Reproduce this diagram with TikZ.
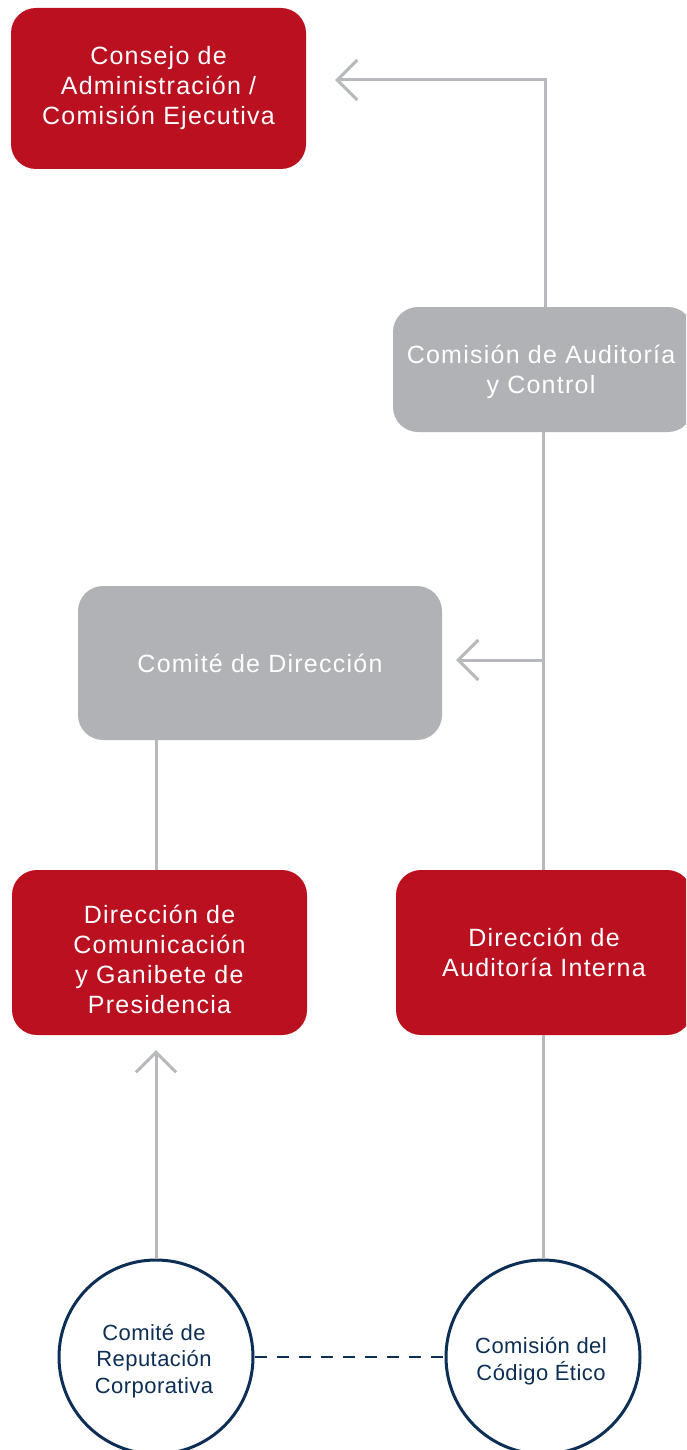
\documentclass[tikz,border=0pt]{standalone}
\usepackage{fontspec}
\setmainfont{Liberation Sans}
\newfontfamily\boxfont[LetterSpace=5]{Liberation Sans}
\newfontfamily\circfont[LetterSpace=2]{Liberation Sans}
\usetikzlibrary{arrows.meta}
\definecolor{cred}{HTML}{BA1020}
\definecolor{cgray}{HTML}{B1B2B5}
\definecolor{cline}{HTML}{B8B9BC}
\definecolor{cnavy}{HTML}{0D2E55}
\tikzset{
  box/.style={rounded corners=25pt, inner sep=0pt, align=center, text=white,
    font=\boxfont\fontsize{25}{30}\selectfont},
  redbox/.style={box, fill=cred},
  graybox/.style={box, fill=cgray},
  circ/.style={circle, draw=cnavy, line width=3pt, fill=white, minimum size=194pt,
    inner sep=0pt},
  circtext/.style={inner sep=0pt, align=center, text=cnavy,
    font=\circfont\fontsize{22}{26.5}\selectfont},
  conn/.style={draw=cline, line width=3pt},
  arr/.style={conn, -{Straight Barb[length=20pt,width=40pt,line width=3pt]}},
  dashconn/.style={draw=cnavy, line width=1.5pt, dash pattern=on 12pt off 10pt}
}
\begin{document}
\begin{tikzpicture}[x=1pt,y=-1pt]
\useasboundingbox (0,0) rectangle (686,1450);
\fill[white] (0,0) rectangle (686,1450);
\begin{scope}
\clip (0,0) rectangle (686,1450);
\node[redbox, minimum width=295pt, minimum height=161pt] (cons) at (158.5,88.5)
  {Consejo de\\Administración /\\Comisión Ejecutiva};
\node[graybox, minimum width=300pt, minimum height=125pt] (cac) at (543,369.5) {};
\node[box] (cact) at (541,371.5) {Comisión de Auditoría\\y Control};
\node[graybox, minimum width=364pt, minimum height=154pt] (cd) at (260,663)
  {Comité de Dirección};
\node[redbox, minimum width=295pt, minimum height=165pt] (dcp) at (159.5,952.5) {};
\node[box] (dcpt) at (159.5,959.5)
  {Dirección de\\Comunicación\\y Ganibete de\\Presidencia};
\node[redbox, minimum width=296pt, minimum height=165pt] (dai) at (544,952.5)
  {Dirección de\\Auditoría Interna};
\node[circ] (crc) at (156,1357) {};
\node[circtext] (crct) at (154,1361) {Comité de\\Reputación\\Corporativa};
\node[circ] (cce) at (543,1357) {};
\node[circtext] (ccet) at (541,1361) {Comisión del\\Código Ético};

\coordinate (c1) at (545,80);
\coordinate (c2) at (543,660);
\draw[arr, shorten >=29pt] (cac.north -| c1) -- (c1) -- (cons.east |- c1);
\draw[conn] (cac.south -| c2) -- (dai.north -| c2);
\draw[arr, shorten >=14pt] (c2) -- (cd.east |- c2);
\draw[conn] (cd.south -| crc) -- (dcp.north -| crc);
\draw[arr, shorten >=15pt] (crc.north) -- (dcp.south -| crc);
\draw[conn] (dai.south -| cce) -- (cce.north);
\draw[dashconn] (crc.east) -- (cce.west);
\end{scope}
\end{tikzpicture}
\end{document}
